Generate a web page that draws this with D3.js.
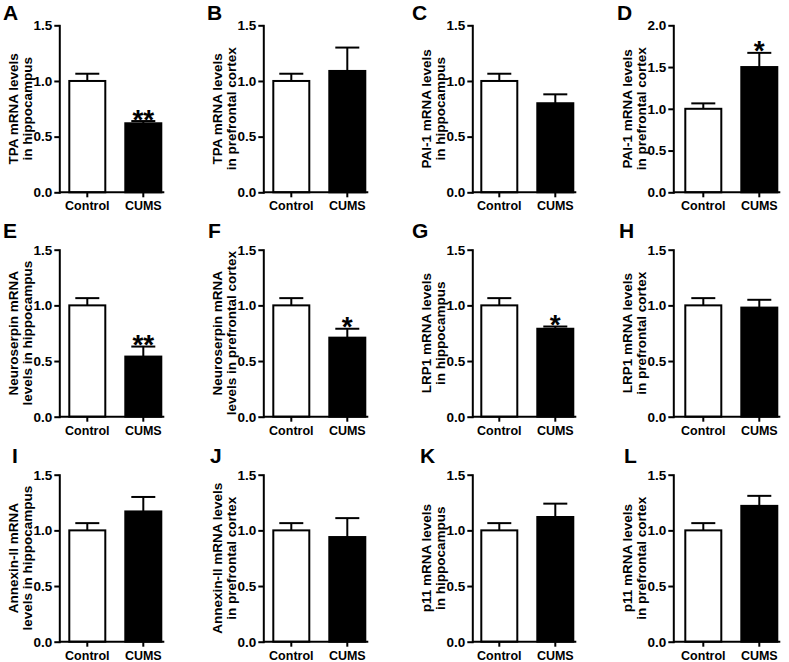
<!DOCTYPE html>
<html>
<head>
<meta charset="utf-8">
<script src="https://cdn.jsdelivr.net/npm/d3@7"></script>
<style>
  html, body { margin: 0; padding: 0; background: #fff; }
  svg { display: block; }
  text { font-family: Arial, "Liberation Sans", sans-serif; font-weight: bold; fill: #000; }
</style>
</head>
<body>
<script>
// ---------------- DATA ----------------
const categories = ["Control", "CUMS"];
const panelLetters = ["A","B","C","D","E","F","G","H","I","J","K","L"];
const yLabelLine1 = [
  "TPA mRNA levels", "TPA mRNA levels", "PAI-1 mRNA levels", "PAI-1 mRNA levels",
  "Neuroserpin mRNA", "Neuroserpin mRNA", "LRP1 mRNA levels", "LRP1 mRNA levels",
  "Annexin-II mRNA", "Annexin-II mRNA levels", "p11 mRNA levels", "p11 mRNA levels"
];
const yLabelLine2 = [
  "in hippocampus", "in prefrontal cortex", "in hippocampus", "in prefrontal cortex",
  "levels in hippocampus", "levels in prefrontal cortex", "in hippocampus", "in prefrontal cortex",
  "levels in hippocampus", "in prefrontal cortex", "in hippocampus", "in prefrontal cortex"
];
const controlMeans = [1.00, 1.00, 1.00, 1.00, 1.00, 1.00, 1.00, 1.00, 1.00, 1.00, 1.00, 1.00];
const controlErrs  = [0.065,0.065,0.065,0.065,0.065,0.065,0.065,0.065,0.065,0.065,0.065,0.065];
const cumsMeans    = [0.62, 1.09, 0.80, 1.50, 0.54, 0.71, 0.79, 0.98, 1.17, 0.94, 1.12, 1.22];
const cumsErrs     = [0.02, 0.21, 0.08, 0.17, 0.09, 0.08, 0.02, 0.07, 0.13, 0.17, 0.12, 0.09];
const significance = ["**", "", "", "*", "**", "*", "*", "", "", "", "", ""];
const yMaxes       = [1.5, 1.5, 1.5, 2.0, 1.5, 1.5, 1.5, 1.5, 1.5, 1.5, 1.5, 1.5];
const yTickStep = 0.5;

// ---------------- LAYOUT ----------------
const W = 789, H = 662;
const colAxisX = [59.3, 263.3, 472.3, 673.3];
const rowBottom = [192.3, 416.7, 641.7];
const axisHeight = 167;
const barOffset = [9, 9, 8, 11];
const barsSpan = 94;
const letterX = [3, 207, 412, 617, 3, 208, 412, 619, 12, 210, 420, 624];
const letterY = [20, 238, 463];
const font = 'Arial, "Liberation Sans", sans-serif';

const svg = d3.select("body").append("svg")
  .attr("width", W).attr("height", H);

panelLetters.forEach((letter, i) => {
  const col = i % 4, row = Math.floor(i / 4);
  const x0 = colAxisX[col];
  const yB = rowBottom[row];
  const g = svg.append("g");

  const y = d3.scaleLinear().domain([0, yMaxes[i]]).range([yB, yB - axisHeight]);
  const x = d3.scaleBand().domain(categories)
    .range([x0 + barOffset[col], x0 + barOffset[col] + barsSpan])
    .paddingInner(18 / 56).paddingOuter(0);

  const means = [controlMeans[i], cumsMeans[i]];
  const errs = [controlErrs[i], cumsErrs[i]];
  const fills = ["#fff", "#000"];

  // bars
  categories.forEach((c, k) => {
    g.append("rect")
      .attr("x", x(c) + 1)
      .attr("y", y(means[k]))
      .attr("width", x.bandwidth() - 2)
      .attr("height", y(0) - y(means[k]))
      .attr("fill", fills[k])
      .attr("stroke", "#000")
      .attr("stroke-width", 2);
    const cx = x(c) + x.bandwidth() / 2;
    // error bar (upper only)
    g.append("line")
      .attr("x1", cx).attr("x2", cx)
      .attr("y1", y(means[k])).attr("y2", y(means[k] + errs[k]))
      .attr("stroke", "#000").attr("stroke-width", 2);
    g.append("line")
      .attr("x1", cx - 12).attr("x2", cx + 12)
      .attr("y1", y(means[k] + errs[k])).attr("y2", y(means[k] + errs[k]))
      .attr("stroke", "#000").attr("stroke-width", 2);
  });

  // significance
  if (significance[i]) {
    const cx = x("CUMS") + x.bandwidth() / 2;
    const fs = 28;
    g.append("text")
      .attr("x", cx)
      .attr("y", y(cumsMeans[i] + cumsErrs[i]) - 2.5 + 0.36 * fs)
      .attr("text-anchor", "middle")
      .style("font-size", fs + "px")
      .text(significance[i]);
  }

  // y axis
  const ticks = d3.range(0, yMaxes[i] + 1e-9, yTickStep);
  const yAxis = d3.axisLeft(y).tickValues(ticks).tickFormat(d3.format(".1f"))
    .tickSize(5).tickSizeOuter(0).tickPadding(2);
  const ya = g.append("g").attr("transform", `translate(${x0},0)`).call(yAxis);
  ya.select(".domain").attr("stroke-width", 2).attr("stroke-linecap", "square");
  ya.selectAll(".tick line").attr("stroke-width", 2);
  ya.selectAll(".tick text").style("font-size", "13.5px").style("font-family", font).style("font-weight", "bold");

  // x axis line
  g.append("line")
    .attr("x1", x0).attr("x2", x0 + barOffset[col] + barsSpan + 2)
    .attr("y1", yB).attr("y2", yB)
    .attr("stroke", "#000").attr("stroke-width", 2);
  const xAxis = d3.axisBottom(x).tickSize(5).tickSizeOuter(0).tickPadding(4);
  const xa = g.append("g").attr("transform", `translate(0,${yB})`).call(xAxis);
  xa.select(".domain").remove();
  xa.selectAll(".tick line").attr("stroke-width", 2);
  xa.selectAll(".tick text").style("font-size", "12.5px").style("font-family", font).style("font-weight", "bold");

  // y label (two lines)
  const cy = yB - axisHeight / 2;
  g.append("text")
    .attr("transform", `translate(${x0 - 41},${cy}) rotate(-90)`)
    .attr("text-anchor", "middle")
    .style("font-size", "13.5px")
    .text(yLabelLine1[i]);
  g.append("text")
    .attr("transform", `translate(${x0 - 27.5},${cy}) rotate(-90)`)
    .attr("text-anchor", "middle")
    .style("font-size", "13.5px")
    .text(yLabelLine2[i]);

  // panel letter
  g.append("text")
    .attr("x", letterX[i]).attr("y", letterY[row])
    .style("font-size", "21px")
    .text(letter);
});
</script>
</body>
</html>
